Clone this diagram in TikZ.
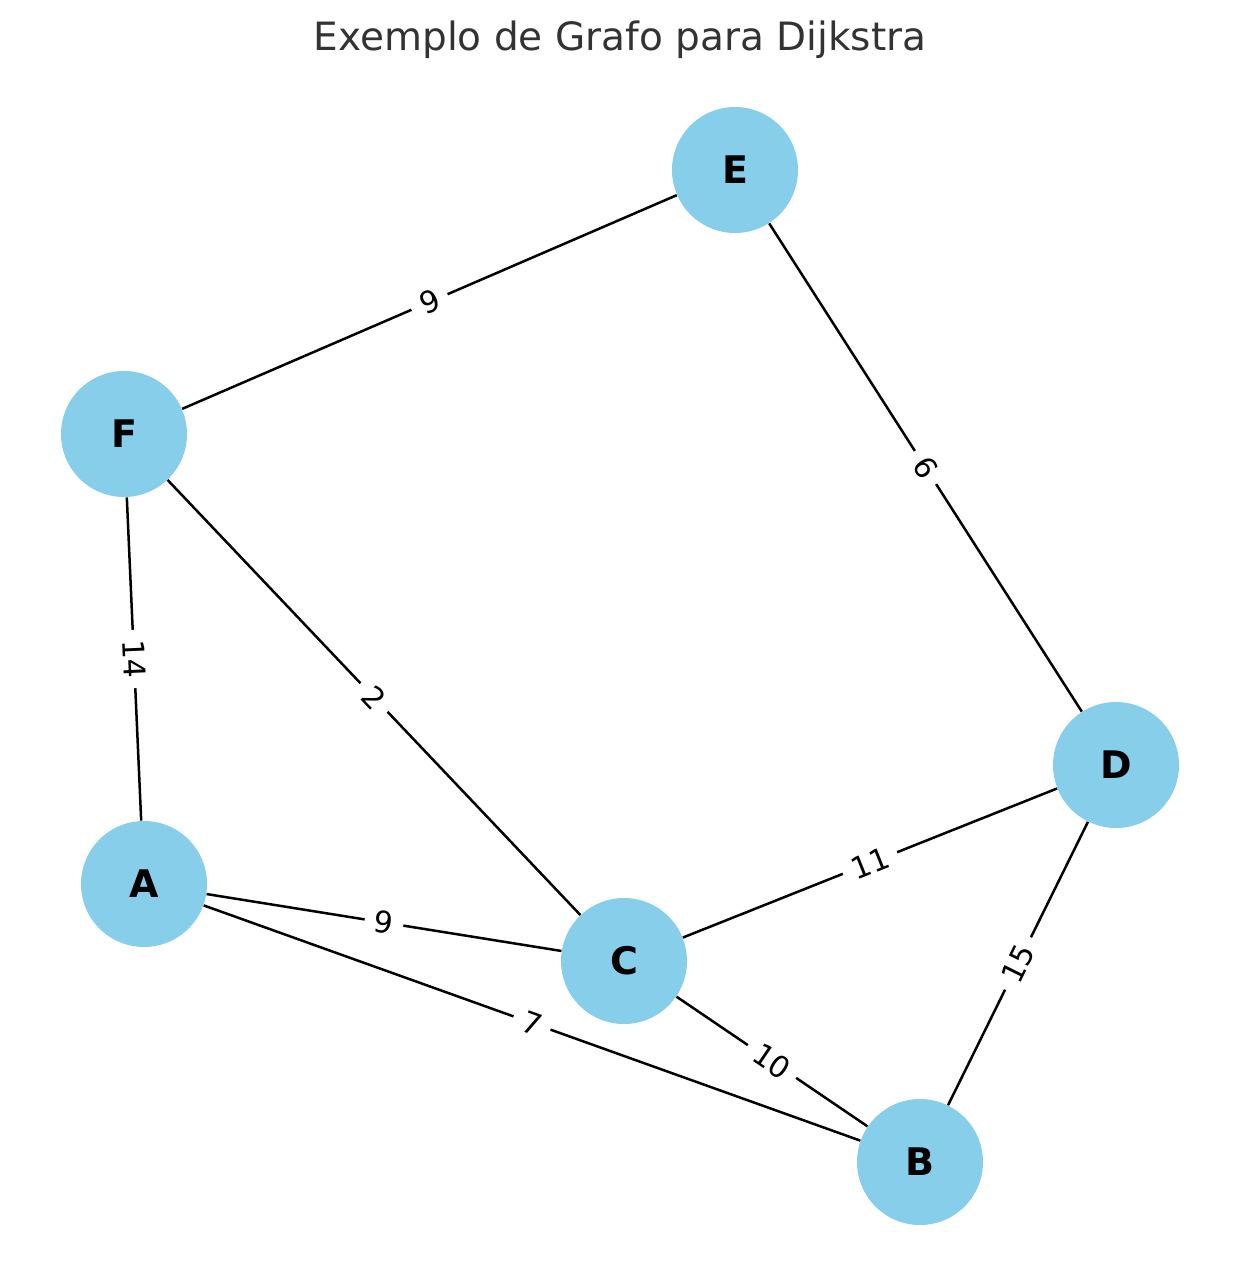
\documentclass[tikz,border=0pt]{standalone}
\usepackage{fontspec}
\setmainfont{DejaVu Sans}
\definecolor{skyblue}{HTML}{87CEEB}
\definecolor{titlegray}{HTML}{333333}
\begin{document}
\begin{tikzpicture}[x=0.5pt,y=-0.5pt,
  vert/.style={circle, fill=skyblue, minimum size=63pt, inner sep=0pt, font=\fontsize{19}{19}\selectfont\bfseries},
  edge/.style={line width=1.25pt, black},
  wlabel/.style={midway, sloped, fill=white, inner xsep=5pt, inner ysep=1pt, font=\fontsize{15}{15}\selectfont}]
\useasboundingbox (0,0) rectangle (1239,1286);
\node[anchor=base, text=titlegray, font=\fontsize{19.5}{19.5}\selectfont] (title) at (620,50) {Exemplo de Grafo para Dijkstra};
\node[vert] (E) at (735,170) {E};
\node[vert] (F) at (124,434) {F};
\node[vert] (D) at (1116,765) {D};
\node[vert] (A) at (144,884) {A};
\node[vert] (C) at (624,961) {C};
\node[vert] (B) at (920,1162) {B};
\draw[edge] (F) -- node[wlabel] {9} (E);
\draw[edge] (E) -- node[wlabel] {6} (D);
\draw[edge] (F) -- node[wlabel] {14} (A);
\draw[edge] (F) -- node[wlabel] {2} (C);
\draw[edge] (A) -- node[wlabel] {9} (C);
\draw[edge] (A) -- node[wlabel] {7} (B);
\draw[edge] (C) -- node[wlabel] {11} (D);
\draw[edge] (C) -- node[wlabel] {10} (B);
\draw[edge] (D) -- node[wlabel] {15} (B);
\end{tikzpicture}
\end{document}
